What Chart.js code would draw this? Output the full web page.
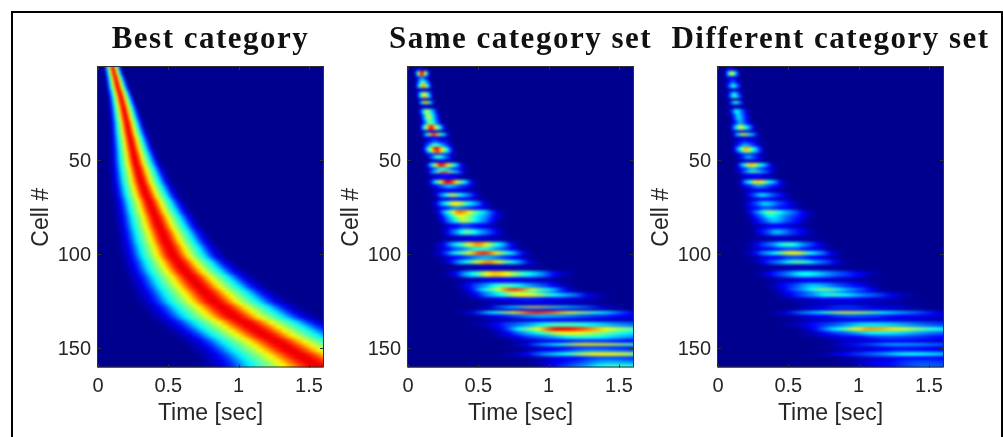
<!DOCTYPE html>
<html>
<head>
  <title>Cell sequences</title>
  <script src="https://cdn.jsdelivr.net/npm/chart.js"></script>
  <style>
    html, body { margin: 0; background: #fff; overflow: hidden; height: 437px; }
    #frame { position: absolute; left: 11px; top: 11px; width: 988px; height: 500px; border: 2px solid #000; }
    canvas { position: absolute; top: 0; }
  </style>
</head>
<body>
  <div id="frame"></div>
  <canvas id="best" width="381" height="437" style="left:20px"></canvas>
  <canvas id="same" width="361" height="437" style="left:340px"></canvas>
  <canvas id="diff" width="373" height="437" style="left:645px"></canvas>
  <script>
    const titles = ['Best category', 'Same category set', 'Different category set'];
    const xTicks = [0, 0.5, 1, 1.5];
    const yTicks = [50, 100, 150];

    // best category: cells 1, 3, 5 ... 159, peak time and half width in sec
    const bestPeak = [
      .105, .112, .119, .126, .133, .14, .148, .156, .164, .171,
      .177, .183, .189, .195, .201, .207, .212, .218, .224, .23,
      .236, .242, .248, .254, .26, .267, .274, .282, .29, .298,
      .306, .315, .324, .334, .345, .358, .368, .379, .39, .401,
      .412, .423, .434, .446, .458, .47, .482, .495, .508, .52,
      .535, .555, .575, .595, .618, .642, .666, .69, .715, .74,
      .766, .793, .82, .853, .888, .924, .96, 1.003, 1.05, 1.095,
      1.14, 1.185, 1.23, 1.275, 1.32, 1.365, 1.41, 1.45, 1.5, 1.55
    ];
    const bestWidth = [
      .05, .052, .055, .058, .061, .064, .067, .07, .073, .076,
      .079, .082, .085, .088, .091, .094, .098, .102, .106, .11,
      .114, .118, .122, .127, .132, .137, .142, .147, .152, .157,
      .162, .167, .172, .177, .182, .187, .192, .197, .203, .209,
      .215, .221, .227, .233, .239, .245, .251, .257, .263, .269,
      .275, .285, .295, .305, .315, .325, .335, .345, .355, .365,
      .375, .385, .395, .405, .415, .425, .435, .445, .455, .465,
      .47, .475, .48, .49, .5, .51, .525, .54, .56, .59
    ];
    const bestLevel = 0.9;

    // same / different panels share the bands, only the height changes
    const bandCell = [
      1, 3.9, 6.5, 8.3, 10.6, 12.4, 14.9, 16.7, 17.6, 19.3,
      21.6, 24, 27, 30, 32.9, 35, 36.8, 37.8, 39.8, 42,
      44, 45.6, 46.5, 48.7, 50.8, 52.9, 55, 56.6, 57.6, 59.3,
      61.8, 64, 66, 68.8, 71, 73.2, 75.3, 77.5, 80.3, 82,
      84.8, 88.3, 91.9, 95, 97.6, 99.7, 102, 104.3, 107, 110.9,
      114, 117.3, 119.1, 120.1, 121.7, 123.9, 126.5, 128.5, 129.4, 131,
      133.3, 135.4, 137.6, 139.9, 142, 144.3, 146.6, 148.3, 149.3, 150.9,
      153.2, 155.5, 157.7, 159.8
    ];
    const bandPeak = [
      .085, .097, .097, .104, .109, .109, .114, .117, .117, .125,
      .125, .132, .145, .156, .161, .161, .18, .18, .19, .19,
      .199, .205, .205, .215, .22, .234, .24, .25, .25, .26,
      .282, .29, .29, .31, .32, .334, .34, .365, .37, .394,
      .4, .417, .45, .5, .52, .536, .55, .57, .6, .618,
      .65, .68, .75, .75, .82, .85, .88, .89, .89, .915,
      .95, 1, 1.08, 1.08, 1.13, 1.22, 1.25, 1.27, 1.27, 1.3,
      1.37, 1.4, 1.42, 1.46
    ];
    const bandLeft = [
      .05, .057, .057, .062, .062, .062, .069, .072, .072, .08,
      .08, .085, .097, .105, .097, .1, .11, .11, .12, .12,
      .12, .125, .125, .145, .15, .145, .15, .155, .155, .16,
      .168, .175, .18, .204, .21, .204, .21, .227, .24, .25,
      .26, .275, .25, .263, .263, .263, .28, .31, .33, .346,
      .39, .417, .465, .465, .49, .5, .55, .585, .585, .488,
      .55, .6, .6, .7, .72, .75, .85, .85, .85, .9,
      .85, .95, 1, 1
    ];
    const bandRight = [
      .12, .145, .145, .156, .161, .161, .168, .17, .17, .18,
      .18, .205, .215, .23, .25, .26, .28, .28, .29, .3,
      .3, .31, .31, .31, .33, .37, .38, .385, .385, .4,
      .44, .45, .46, .476, .5, .535, .55, .606, .618, .6,
      .62, .63, .7, .725, .76, .796, .81, .844, .9, 1.03,
      1.05, 1.06, 1.1, 1.1, 1.27, 1.3, 1.35, 1.37, 1.37, 1.55,
      1.65, 1.75, 1.9, 1.9, 1.95, 2, 2, 2.1, 2.1, 2.1,
      2.2, 2.2, 2.3, 2.4
    ];
    const sameLevel = [
      .12, .92, .28, .48, .74, .1, .62, .72, .08, .68,
      .07, .56, .56, .5, .87, .12, .8, .12, .2, .45,
      .92, .8, .15, .45, .1, .87, .38, .8, .15, .12,
      .9, .32, .12, .55, .15, .62, .25, .76, .6, .55,
      .18, .46, .08, .73, .4, .84, .3, .73, .06, .68,
      .12, .45, .85, .55, .63, .15, .08, .6, .15, .84,
      .3, .1, .44, .9, .63, .42, .18, .62, .12, .25,
      .63, .2, .3, .42
    ];
    const diffLevel = [
      .12, .6, .12, .22, .42, .08, .38, .5, .06, .45,
      .06, .38, .34, .3, .58, .1, .6, .08, .15, .3,
      .72, .55, .1, .3, .08, .67, .3, .5, .12, .1,
      .66, .28, .1, .35, .12, .33, .2, .5, .38, .32,
      .12, .3, .05, .42, .2, .62, .2, .46, .05, .38,
      .1, .32, .5, .3, .42, .12, .06, .2, .1, .56,
      .2, .1, .35, .72, .38, .2, .1, .3, .1, .15,
      .38, .12, .2, .22
    ];

    // how a cell's response drops from its peak towards the band edge
    const falloff = [1, .97, .9, .8, .7, .61, .54, .47, .4, .3, .2, .11, .06, .03, 0];

    const bestRows = bestPeak.map((p, i) => ({
      x: p, y: 2 * i + 1, left: p - bestWidth[i], right: p + bestWidth[i], level: bestLevel
    }));
    const bandRows = levels => bandCell.map((c, i) => ({
      x: bandPeak[i], y: c, left: bandLeft[i], right: bandRight[i], level: levels[i]
    }));

    function jet(v) {
      const r = Math.min(4 * v - 1.5, -4 * v + 4.5);
      const g = Math.min(4 * v - 0.5, -4 * v + 3.5);
      const b = Math.min(4 * v + 0.56, -4 * v + 2.5);
      const c = t => Math.round(255 * Math.max(0, Math.min(1, t)));
      return `rgb(${c(r)},${c(g)},${c(b)})`;
    }

    const heatmap = {
      id: 'heatmap',
      beforeDatasetsDraw(chart) {
        const { ctx, chartArea: a, scales: { x, y } } = chart;
        const rows = chart.data.datasets[0].data;
        const m = 8;
        const off = document.createElement('canvas');
        off.width = a.width + 2 * m;
        off.height = Math.ceil(a.height) + 2 * m;
        const o = off.getContext('2d');
        o.fillStyle = jet(0);
        o.fillRect(0, 0, off.width, off.height);
        const px = t => x.getPixelForValue(t) - a.left + m;
        const py = c => y.getPixelForValue(c) - a.top + m;
        rows.forEach((r, i) => {
          const top = i ? Math.round((py(rows[i - 1].y) + py(r.y)) / 2) : 0;
          const bottom = i < rows.length - 1 ? Math.round((py(r.y) + py(rows[i + 1].y)) / 2) : off.height;
          const peak = px(r.x);
          const dl = peak - px(r.left), dr = px(r.right) - peak;
          const step = 0.1;
          const x0 = peak - dl * step * (falloff.length - 1);
          const x1 = peak + dr * step * (falloff.length - 1);
          const g = o.createLinearGradient(x0, 0, x1, 0);
          falloff.forEach((f, k) => {
            const col = jet(r.level * f);
            g.addColorStop((peak - dl * step * k - x0) / (x1 - x0), col);
            g.addColorStop((peak + dr * step * k - x0) / (x1 - x0), col);
          });
          o.fillStyle = g;
          o.fillRect(0, top, off.width, bottom - top);
        });
        ctx.save();
        ctx.beginPath();
        ctx.rect(a.left, a.top, a.width, a.height);
        ctx.clip();
        ctx.filter = 'blur(1.4px)';
        ctx.drawImage(off, a.left - m, a.top - m);
        ctx.restore();
      },
      afterDatasetsDraw(chart) {
        const { ctx, chartArea: a, scales: { x, y } } = chart;
        ctx.save();
        ctx.strokeStyle = '#303030';
        ctx.lineWidth = 1;
        ctx.beginPath();
        xTicks.forEach(t => {
          const p = Math.round(x.getPixelForValue(t)) + 0.5;
          ctx.moveTo(p, a.top); ctx.lineTo(p, a.top + 3);
          ctx.moveTo(p, a.bottom); ctx.lineTo(p, a.bottom - 3);
        });
        yTicks.forEach(t => {
          const p = Math.round(y.getPixelForValue(t)) + 0.5;
          ctx.moveTo(a.left, p); ctx.lineTo(a.left + 3, p);
          ctx.moveTo(a.right, p); ctx.lineTo(a.right - 3, p);
        });
        ctx.stroke();
        ctx.strokeRect(a.left - 0.5, a.top - 0.5, a.width + 1, a.height);
        ctx.restore();
      }
    };

    function panel(id, title, rows, plotLeft, canvasLeft) {
      const canvas = document.getElementById(id);
      const axisFont = { family: '"Liberation Sans", Arial, sans-serif', size: 20 };
      const labelFont = { family: '"Liberation Sans", Arial, sans-serif', size: 23 };
      const chart = new Chart(canvas.getContext('2d'), {
        type: 'scatter',
        data: { datasets: [{ label: title, data: rows, pointRadius: 0, showLine: false }] },
        plugins: [heatmap],
        options: {
          responsive: false,
          animation: false,
          layout: {
            padding: {
              left: plotLeft - canvasLeft - 70,
              right: canvas.width - (plotLeft + 225 - canvasLeft),
              top: 0,
              bottom: 10
            }
          },
          plugins: {
            legend: { display: false },
            tooltip: { enabled: false },
            title: {
              display: true,
              text: title,
              color: '#111',
              font: { family: '"Liberation Serif", serif', size: 31, weight: 'bold', lineHeight: 1.2 },
              padding: { top: 21.6, bottom: 8.2 }
            }
          },
          scales: {
            x: {
              type: 'linear',
              min: 0,
              max: 1.6,
              afterBuildTicks: s => { s.ticks = xTicks.map(value => ({ value })); },
              afterFit: s => { s.height = 59.5; },
              grid: { display: false, drawTicks: false },
              border: { display: false },
              ticks: { color: '#262626', font: axisFont, padding: 7, maxRotation: 0, callback: v => String(v) },
              title: { display: true, text: 'Time [sec]', color: '#262626', font: labelFont, padding: { top: 2, bottom: 0 } }
            },
            y: {
              type: 'linear',
              reverse: true,
              min: 0.5,
              max: 160.5,
              afterBuildTicks: s => { s.ticks = yTicks.map(value => ({ value })); },
              afterFit: s => { s.width = 70; },
              grid: { display: false, drawTicks: false },
              border: { display: false },
              ticks: { color: '#262626', font: axisFont, padding: 7, labelOffset: 2, callback: v => String(v) },
              title: { display: true, text: 'Cell #', color: '#262626', font: labelFont, padding: { top: 0, bottom: 4 } }
            }
          }
        }
      });
      // centre the title over the plot, not over plot + y axis, and set it wider
      const drawTitle = chart.titleBlock.draw;
      chart.titleBlock.draw = function () {
        const { left, right } = this;
        this.left = left - 40;
        this.right = right + 110;
        chart.ctx.letterSpacing = '1.5px';
        drawTitle.call(this);
        chart.ctx.letterSpacing = '0px';
        this.left = left;
        this.right = right;
      };
      chart.draw();
      return chart;
    }

    panel('best', titles[0], bestRows, 98, 20);
    panel('same', titles[1], bandRows(sameLevel), 408, 340);
    panel('diff', titles[2], bandRows(diffLevel), 718, 645);
  </script>
</body>
</html>
